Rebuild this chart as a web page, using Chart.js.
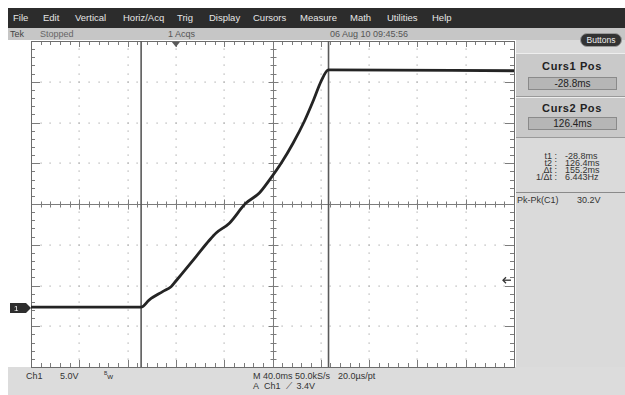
<!DOCTYPE html>
<html>
<head>
<meta charset="utf-8">
<script src="https://cdn.jsdelivr.net/npm/chart.js@4"></script>
<style>
  body { margin: 0; width: 625px; height: 395px; background: #fff; overflow: hidden;
         font-family: "Liberation Sans", Arial, sans-serif; }
  #wrap { position: relative; width: 625px; height: 395px; }
  #scope { position: absolute; left: 0; top: 0; z-index: 2; }
  .box { position: absolute; }
  .t { position: absolute; white-space: nowrap; transform: translateY(-50%); line-height: 1; }
  .c { text-align: center; }
</style>
</head>
<body>
<div id="wrap">
  <!-- menu bar -->
  <div class="box" style="left:8px;top:8px;width:617px;height:20px;background:#2c2c2c"></div>
  <div id="menu"></div>
  <!-- status bar -->
  <div class="box" style="left:8px;top:28px;width:617px;height:12px;background:#c6c6c6"></div>
  <div class="t" style="left:10px;top:34px;font-size:9px;color:#444">Tek</div>
  <div class="t" style="left:40px;top:34px;font-size:9px;color:#666">Stopped</div>
  <div class="t" style="left:168px;top:34px;font-size:9px;color:#555">1 Acqs</div>
  <div class="t" style="left:330px;top:34px;font-size:9px;color:#555">06 Aug 10 09:45:56</div>

  <!-- right panel -->
  <div class="box" style="left:516px;top:40px;width:109px;height:327px;background:#dadada"></div>
  <div class="box" style="left:516px;top:53px;width:109px;height:42px;background:#c9c9c9;border-top:1px solid #eee;border-bottom:1px solid #9a9a9a"></div>
  <div class="box" style="left:516px;top:97px;width:109px;height:39px;background:#c9c9c9;border-top:1px solid #eee;border-bottom:1px solid #9a9a9a"></div>
  <div class="box" style="left:580px;top:33px;width:42px;height:14px;background:#333;border-radius:7px;border:1px solid #999;box-sizing:border-box"></div>
  <div class="t c" style="left:580px;width:42px;top:40px;font-size:8.5px;color:#eee">Buttons</div>

  <div class="t c" style="left:516px;width:112px;top:66px;font-size:11px;font-weight:bold;letter-spacing:0.6px;color:#222">Curs1 Pos</div>
  <div class="box" style="left:528px;top:77px;width:89px;height:13px;background:#b6b6b6;border:1px solid #8a8a8a;box-sizing:border-box"></div>
  <div class="t c" style="left:528px;width:89px;top:84px;font-size:10px;color:#222">-28.8ms</div>

  <div class="t c" style="left:516px;width:112px;top:108px;font-size:11px;font-weight:bold;letter-spacing:0.6px;color:#222">Curs2 Pos</div>
  <div class="box" style="left:528px;top:117px;width:89px;height:13px;background:#b6b6b6;border:1px solid #8a8a8a;box-sizing:border-box"></div>
  <div class="t c" style="left:528px;width:89px;top:124px;font-size:10px;color:#222">126.4ms</div>

  <div id="readout"></div>
  <div class="box" style="left:516px;top:192px;width:109px;height:1px;background:#8a8a8a"></div>
  <div class="t" style="left:517px;top:200px;font-size:9px;color:#333">Pk-Pk(C1)</div>
  <div class="t" style="left:577px;top:200px;font-size:9px;color:#333">30.2V</div>

  <!-- bottom panel -->
  <div class="box" style="left:8px;top:367px;width:617px;height:28px;background:#dcdcdc"></div>
  <div class="t" style="left:26px;top:376px;font-size:9px;color:#333">Ch1</div>
  <div class="t" style="left:60px;top:376px;font-size:9px;color:#333">5.0V</div>
  <div class="t" style="left:104px;top:376px;font-size:8px;color:#333"><sup style="font-size:5px">B</sup>w</div>
  <div class="t" style="left:253px;top:376px;font-size:9px;color:#333">M 40.0ms 50.0kS/s</div>
  <div class="t" style="left:338px;top:376px;font-size:9px;color:#333">20.0µs/pt</div>
  <div class="t" style="left:253px;top:386px;font-size:9px;color:#333">A&nbsp; Ch1 &nbsp;⟋ &nbsp;3.4V</div>

  <canvas id="scope" width="625" height="395"></canvas>
</div>
<script>
// horizontal: 40 ms/div, 10 divisions
const timeMin = -120;
const timeMax = 280;
const msPerDiv = 40;
// vertical: 5 V/div, 8 divisions, channel ground 2.55 div below centre
const voltsPerDiv = 5;
const groundDiv = 2.55;
const trigLevel = 3.4;
const cursorTimes = [-28.8, 126.4];

// trace
const timeMs = [-120, -28.8, -22, -11, -4, 0, 5.6, 16.7, 27.7, 33.3, 44.3, 57.6, 69.1, 78, 87.4, 97, 106.4, 114, 120.2, 126.4, 280];
const volts  = [0.1, 0.1, 1.0, 2.0, 2.6, 3.3, 4.3, 6.3, 8.3, 9.2, 10.4, 12.8, 14.1, 15.8, 17.8, 20.2, 22.9, 25.5, 27.8, 29.2, 29.1];

const menuItems = ['File', 'Edit', 'Vertical', 'Horiz/Acq', 'Trig', 'Display', 'Cursors', 'Measure', 'Math', 'Utilities', 'Help'];
const menuX = [13, 43, 75, 123, 177, 209, 253, 300, 350, 387, 432];
const readLabels = ['t1 :', 't2 :', 'Δt :', '1/Δt :'];
const readValues = ['-28.8ms', '126.4ms', '155.2ms', '6.443Hz'];

const menu = document.getElementById('menu');
menuItems.forEach((m, i) => {
  const d = document.createElement('div');
  d.className = 't';
  d.style.cssText = `left:${menuX[i]}px;top:18px;font-size:9.5px;color:#e6e6e6`;
  d.textContent = m;
  menu.appendChild(d);
});
const ro = document.getElementById('readout');
readLabels.forEach((l, i) => {
  const y = 156 + i * 7;
  const a = document.createElement('div');
  a.className = 't';
  a.style.cssText = `right:${625 - 557}px;top:${y}px;font-size:9px;color:#333`;
  a.textContent = l;
  const b = document.createElement('div');
  b.className = 't';
  b.style.cssText = `left:565px;top:${y}px;font-size:9px;color:#333`;
  b.textContent = readValues[i];
  ro.appendChild(a); ro.appendChild(b);
});

const vMin = (-4 + groundDiv) * voltsPerDiv;
const vMax = (4 + groundDiv) * voltsPerDiv;

const graticule = {
  id: 'graticule',
  beforeDatasetsDraw(chart) {
    const { ctx, chartArea: a, scales: { x, y } } = chart;
    const xs = [], ys = [];
    for (let i = 0; i <= 10; i++) xs.push(x.getPixelForValue(timeMin + i * msPerDiv));
    for (let j = 0; j <= 8; j++) ys.push(y.getPixelForValue(vMin + j * voltsPerDiv));
    const dx = (xs[10] - xs[0]) / 50, dy = (ys[0] - ys[8]) / 40;
    ctx.save();
    // dotted grid
    ctx.fillStyle = '#ababab';
    for (let i = 1; i < 10; i++) {
      if (i === 5) continue;
      for (let k = 1; k < 40; k++) ctx.fillRect(Math.round(xs[i]) - 0.5, Math.round(a.top + k * dy) - 0.5, 1.2, 1.2);
    }
    for (let j = 1; j < 8; j++) {
      if (j === 4) continue;
      for (let k = 1; k < 50; k++) ctx.fillRect(Math.round(a.left + k * dx) - 0.5, Math.round(ys[j]) - 0.5, 1.2, 1.2);
    }
    ctx.strokeStyle = '#7c7c7c';
    ctx.lineWidth = 1;
    const line = (x1, y1, x2, y2) => { ctx.beginPath(); ctx.moveTo(x1, y1); ctx.lineTo(x2, y2); ctx.stroke(); };
    // centre cross
    const cx = Math.round(xs[5]) + 0.5, cy = Math.round(ys[4]) + 0.5;
    line(cx, a.top, cx, a.bottom);
    line(a.left, cy, a.right, cy);
    for (let k = 1; k < 50; k++) {
      const px = Math.round(a.left + k * dx) + 0.5, L = k % 5 === 0 ? 5 : 3;
      line(px, cy - L, px, cy + L);
      line(px, a.top, px, a.top + (k % 5 === 0 ? 6 : 4));
      line(px, a.bottom, px, a.bottom - (k % 5 === 0 ? 7 : 4));
    }
    for (let k = 1; k < 40; k++) {
      const py = Math.round(a.top + k * dy) + 0.5, L = k % 5 === 0 ? 5 : 3;
      line(cx - L, py, cx + L, py);
      line(a.left, py, a.left + (k % 5 === 0 ? 9 : 4), py);
      line(a.right, py, a.right - (k % 5 === 0 ? 9 : 4), py);
    }
    // border
    ctx.strokeStyle = '#6c6c6c';
    ctx.strokeRect(Math.round(a.left) + 0.5, Math.round(a.top) + 0.5, Math.round(a.right - a.left), Math.round(a.bottom - a.top));
    // cursors
    ctx.strokeStyle = '#5a5a5a';
    ctx.lineWidth = 1.6;
    cursorTimes.forEach(t => {
      const px = x.getPixelForValue(t);
      line(px, a.top, px, a.bottom);
    });
    ctx.restore();
  },
  afterDatasetsDraw(chart) {
    const { ctx, chartArea: a, scales: { x, y } } = chart;
    ctx.save();
    // trigger position marker
    const tx = x.getPixelForValue(0);
    ctx.fillStyle = '#5a5a5a';
    ctx.beginPath();
    ctx.moveTo(tx - 4, a.top + 1); ctx.lineTo(tx + 4, a.top + 1); ctx.lineTo(tx, a.top + 6);
    ctx.closePath(); ctx.fill();
    // trigger level arrow
    const ty = y.getPixelForValue(trigLevel);
    ctx.strokeStyle = '#333'; ctx.lineWidth = 1.3;
    ctx.beginPath(); ctx.moveTo(a.right - 3, ty); ctx.lineTo(a.right - 11, ty); ctx.stroke();
    ctx.beginPath(); ctx.moveTo(a.right - 8, ty - 3); ctx.lineTo(a.right - 11, ty); ctx.lineTo(a.right - 8, ty + 3); ctx.stroke();
    // channel 1 ground marker
    const gy = y.getPixelForValue(0);
    ctx.fillStyle = '#2e2e2e';
    ctx.beginPath();
    ctx.moveTo(10, gy - 5); ctx.lineTo(26, gy - 5); ctx.lineTo(31, gy); ctx.lineTo(26, gy + 5); ctx.lineTo(10, gy + 5);
    ctx.closePath(); ctx.fill();
    ctx.fillStyle = '#fff';
    ctx.font = '8px "Liberation Sans", Arial';
    ctx.textBaseline = 'middle';
    ctx.fillText('1', 14, gy + 0.5);
    ctx.restore();
  }
};

new Chart(document.getElementById('scope'), {
  type: 'line',
  data: {
    datasets: [{
      data: timeMs.map((t, i) => ({ x: t, y: volts[i] })),
      borderColor: '#242424',
      borderWidth: 2.8,
      pointRadius: 0,
      tension: 0.2,
      cubicInterpolationMode: 'monotone'
    }]
  },
  options: {
    responsive: false,
    animation: false,
    layout: { padding: { left: 31, top: 41, right: 111, bottom: 28 } },
    scales: {
      x: { type: 'linear', min: timeMin, max: timeMax, display: false },
      y: { type: 'linear', min: vMin, max: vMax, display: false }
    },
    plugins: { legend: { display: false }, tooltip: { enabled: false } }
  },
  plugins: [graticule]
});
</script>
</body>
</html>
